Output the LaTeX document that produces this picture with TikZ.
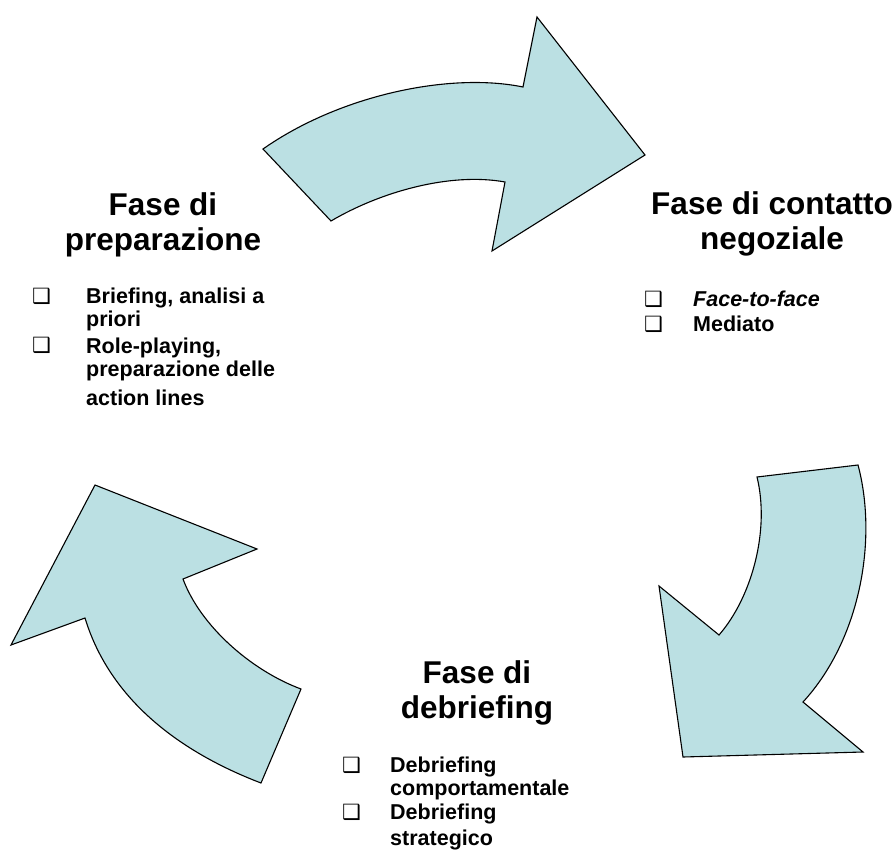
\documentclass[tikz,border=0pt]{standalone}
\usepackage{fontspec}
\setmainfont{Liberation Sans}
\newfontfamily\boxfont{DejaVu Sans}
\usetikzlibrary{positioning}
\definecolor{arrowFill}{HTML}{BBE0E3}

\begin{document}
\begin{tikzpicture}[x=1pt, y=-1pt,
  phase/.style={align=center, anchor=base, inner sep=0pt, font=\fontsize{31.5}{35}\selectfont\bfseries},
  item/.style={align=left, anchor=base west, inner sep=0pt, font=\fontsize{21.5}{23}\selectfont\bfseries},
  tick/.style={anchor=base west, inner sep=0pt, font=\boxfont\fontsize{21}{21}\selectfont},
  curvarrow/.style={fill=arrowFill, draw=black, line width=1.1pt, line join=miter},
]
  \useasboundingbox (0,0) rectangle (896,853);

  % three curved arrows
  \draw[curvarrow] (263,149) -- (331,221)
    .. controls (380,192) and (450,172) .. (505,182)
    -- (492,251) -- (645,155) -- (537,17) -- (523,87)
    .. controls (450,72) and (340,95) .. cycle;
  \draw[curvarrow] (757,477) -- (858,465)
    .. controls (878,540) and (860,640) .. (803,702)
    -- (863,752) -- (683,757) -- (659,586) -- (719,635)
    .. controls (752,597) and (770,530) .. cycle;
  \draw[curvarrow] (301,689) -- (261,783)
    .. controls (180,752) and (110,700) .. (85,618)
    -- (11,645) -- (95,485) -- (257,549) -- (183,579)
    .. controls (200,625) and (250,670) .. cycle;

  % phases (base = last line)
  \node[phase] (prep) at (163,250) {Fase di\\preparazione};
  \node[phase] (cont) at (772,249) {Fase di contatto\\negoziale};
  \node[phase] (debr) at (477,718) {Fase di\\debriefing};

  % lists (base = last line)
  \node[item] (p1) at (86,326) {Briefing, analisi a\\priori};
  \node[item] (p2) at (86,405) {Role-playing,\\preparazione delle\\[6pt]action lines};
  \node[item] (c1) at (693,306) {\itshape Face-to-face};
  \node[item] (c2) at (693,331) {Mediato};
  \node[item] (d1) at (390,795) {Debriefing\\comportamentale};
  \node[item] (d2) at (390,845) {Debriefing\\[3pt]strategico};

  % check boxes, on the first line of each item
  \foreach \name/\x/\y in {p1/32/303, p2/32/352, c1/644/306, c2/644/331, d1/342/772, d2/342/819}
    \node[tick] (b\name) at (\x,\y) {❑};
\end{tikzpicture}
\end{document}
